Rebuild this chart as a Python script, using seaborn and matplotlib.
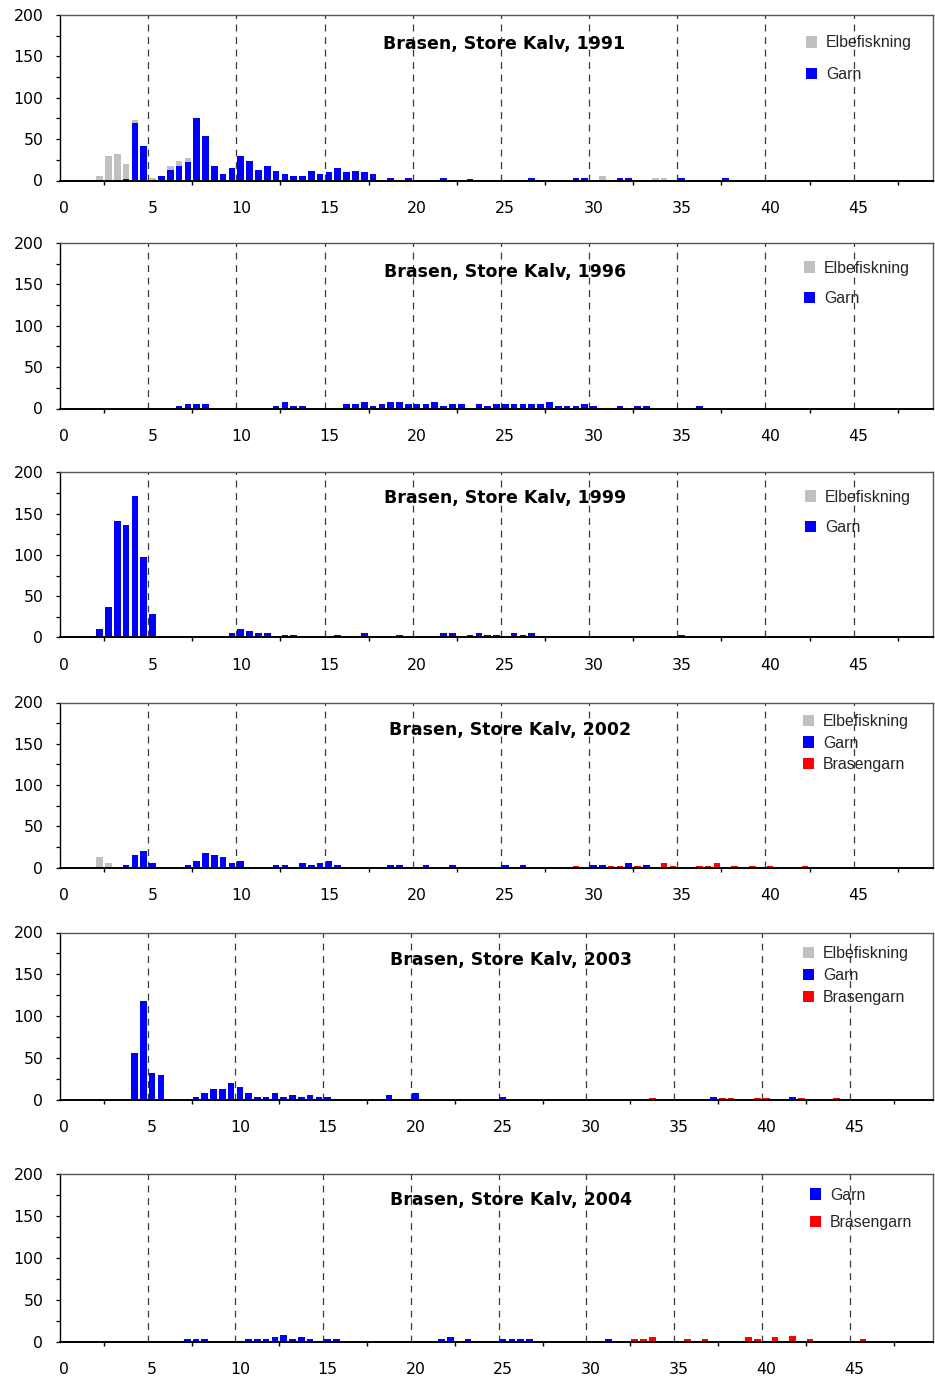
import numpy as np
import pandas as pd
import matplotlib
matplotlib.use("Agg")
import matplotlib.pyplot as plt
import seaborn as sns

# ---------------------------------------------------------------------------
# Length distribution of bream (Brasen) in Store Kalv.
# Each list pair: lower bound of the 0.5 cm length class and number of fish.
# ---------------------------------------------------------------------------
elbe_1991_len = [2.0, 2.5, 3.0, 3.5, 4.0, 5.0, 6.0, 6.5, 7.0, 30.5, 33.5, 34.0]
elbe_1991_n = [5, 30, 32, 18, 4, 3, 5, 6, 5, 5, 3, 3]
garn_1991_len = [3.5, 4.0, 4.5, 5.5, 6.0, 6.5, 7.0, 7.5, 8.0, 8.5,
                 9.0, 9.5, 10.0, 10.5, 11.0, 11.5, 12.0, 12.5, 13.0, 13.5,
                 14.0, 14.5, 15.0, 15.5, 16.0, 16.5, 17.0, 17.5, 18.5, 19.5,
                 21.5, 23.0, 26.5, 29.0, 29.5, 31.5, 32.0, 35.0, 37.5]
garn_1991_n = [2, 69, 42, 6, 13, 18, 22, 75, 54, 18,
               8, 15, 30, 24, 13, 18, 12, 8, 5, 5,
               12, 8, 10, 15, 10, 12, 10, 8, 3, 3,
               3, 2, 3, 3, 3, 3, 3, 3, 3]

garn_1996_len = [6.5, 7.0, 7.5, 8.0,
                 12.0, 12.5, 13.0, 13.5,
                 16.0, 16.5, 17.0, 17.5, 18.0, 18.5, 19.0, 19.5, 20.0, 20.5,
                 21.0, 21.5, 22.0, 22.5,
                 23.5, 24.0, 24.5, 25.0, 25.5, 26.0, 26.5, 27.0, 27.5, 28.0,
                 28.5, 29.0, 29.5, 30.0,
                 31.5, 32.5, 33.0, 36.0]
garn_1996_n = [3, 6, 6, 6,
               3, 8, 3, 3,
               6, 6, 8, 3, 6, 8, 8, 6, 6, 6,
               8, 3, 6, 6,
               6, 3, 6, 6, 6, 6, 6, 6, 8, 3,
               3, 3, 6, 3,
               3, 3, 3, 3]

garn_1999_len = [2.0, 2.5, 3.0, 3.5, 4.0, 4.5, 5.0,
                 9.5, 10.0, 10.5, 11.0, 11.5, 12.5, 13.0, 15.5, 17.0, 19.0,
                 21.5, 22.0, 23.0, 23.5, 24.0, 24.5, 25.5, 26.0, 26.5, 30.0,
                 35.0]
garn_1999_n = [10, 37, 141, 136, 172, 98, 29,
               5, 10, 8, 5, 5, 3, 3, 3, 5, 3,
               5, 5, 3, 5, 3, 3, 5, 3, 5, 2,
               3]

elbe_2002_len = [2.0, 2.5]
elbe_2002_n = [13, 6]
garn_2002_len = [3.5, 4.0, 4.5, 5.0, 7.0, 7.5, 8.0, 8.5, 9.0, 9.5,
                 10.0, 12.0, 12.5, 13.5, 14.0, 14.5, 15.0, 15.5, 18.5, 19.0,
                 20.5, 22.0, 25.0, 26.0, 30.0, 30.5, 32.0, 33.0]
garn_2002_n = [3, 15, 20, 6, 3, 8, 18, 15, 13, 6,
               8, 3, 3, 6, 3, 6, 8, 3, 3, 3,
               3, 3, 3, 3, 3, 3, 6, 3]
bras_2002_len = [29.0, 31.0, 31.5, 32.5, 34.0, 34.5, 36.0, 36.5, 37.0, 38.0,
                 39.0, 40.0, 42.0]
bras_2002_n = [2, 2, 2, 2, 5, 2, 2, 2, 5, 2,
               2, 2, 2]

garn_2003_len = [4.0, 4.5, 5.0, 5.5, 7.5, 8.0, 8.5, 9.0, 9.5, 10.0,
                 10.5, 11.0, 11.5, 12.0, 12.5, 13.0, 13.5, 14.0, 14.5, 15.0,
                 18.5, 20.0, 25.0, 37.0, 41.5]
garn_2003_n = [56, 118, 32, 30, 3, 8, 13, 13, 20, 15,
               8, 3, 3, 8, 3, 6, 3, 6, 3, 3,
               6, 8, 3, 3, 3]
bras_2003_len = [33.5, 37.5, 38.0, 39.5, 40.0, 42.0, 44.0]
bras_2003_n = [2, 2, 2, 2, 2, 2, 2]

garn_2004_len = [7.0, 7.5, 8.0, 10.5, 11.0, 11.5, 12.0, 12.5, 13.0, 13.5,
                 14.0, 15.0, 15.5, 21.5, 22.0, 23.0, 25.0, 25.5, 26.0, 26.5,
                 31.0]
garn_2004_n = [3, 3, 3, 3, 3, 3, 5, 8, 3, 5,
               3, 3, 3, 3, 5, 3, 3, 3, 3, 3,
               3]
bras_2004_len = [32.5, 33.0, 33.5, 35.5, 36.5, 39.0, 39.5, 40.5, 41.5, 42.5,
                 45.5]
bras_2004_n = [3, 3, 5, 3, 3, 5, 3, 5, 7, 3,
               3]

titles = ["Brasen, Store Kalv, 1991", "Brasen, Store Kalv, 1996",
          "Brasen, Store Kalv, 1999", "Brasen, Store Kalv, 2002",
          "Brasen, Store Kalv, 2003", "Brasen, Store Kalv, 2004"]

panels = [
    {"Elbefiskning": (elbe_1991_len, elbe_1991_n), "Garn": (garn_1991_len, garn_1991_n)},
    {"Elbefiskning": ([], []), "Garn": (garn_1996_len, garn_1996_n)},
    {"Elbefiskning": ([], []), "Garn": (garn_1999_len, garn_1999_n)},
    {"Elbefiskning": (elbe_2002_len, elbe_2002_n), "Garn": (garn_2002_len, garn_2002_n),
     "Brasengarn": (bras_2002_len, bras_2002_n)},
    {"Elbefiskning": ([], []), "Garn": (garn_2003_len, garn_2003_n),
     "Brasengarn": (bras_2003_len, bras_2003_n)},
    {"Garn": (garn_2004_len, garn_2004_n), "Brasengarn": (bras_2004_len, bras_2004_n)},
]

gear_order = ["Elbefiskning", "Garn", "Brasengarn"]
gear_colors = {"Elbefiskning": "#c0c0c0", "Garn": "#0000ff", "Brasengarn": "#ff0000"}

x_ticks = [0, 5, 10, 15, 20, 25, 30, 35, 40, 45]
y_ticks = [0, 50, 100, 150, 200]

# ---------------------------------------------------------------------------
# Layout (figure pixels)
# ---------------------------------------------------------------------------
W, H = 935, 1378
AX_LEFT, AX_RIGHT = 60, 933
ax_rows = [(15, 180.5, 49.5), (243, 408.5, 49.5), (472.5, 637.5, 49.5),
           (702.5, 867.5, 49.5), (932.5, 1100, 49.75), (1174, 1341.5, 49.75)]
title_pos = [(504.5, 48.5), (505, 276.5), (505, 503.5),
             (510.5, 735), (511, 964.5), (511, 1205)]
legend_pos = [(806, 35.5, 1.05), (804, 260.5, 1.0), (805, 489.5, 1.0),
              (803, 714, 0.42), (803, 946, 0.45), (810, 1187.5, 0.78)]

BIN = 0.5
grid = np.arange(0, 50, BIN)


def counts(pair):
    lens, n = pair
    s = pd.Series(n, index=lens, dtype=float)
    return s.reindex(grid, fill_value=0.0).to_numpy()


sns.set_theme(style="ticks")
plt.rcParams["font.family"] = ["DejaVu Sans"]

fig = plt.figure(figsize=(W / 100, H / 100), dpi=100)
fig.patch.set_facecolor("white")

for i, gears in enumerate(panels):
    top, bottom, xmax = ax_rows[i]
    ax = fig.add_axes([AX_LEFT / W, 1 - bottom / H,
                       (AX_RIGHT - AX_LEFT) / W, (bottom - top) / H])
    ax.set_facecolor("white")

    # stacked columns: Garn at the bottom, Elbefiskning above, Brasengarn on top
    g = counts(gears["Garn"])
    e = counts(gears["Elbefiskning"]) if "Elbefiskning" in gears else np.zeros_like(grid)
    b = counts(gears["Brasengarn"]) if "Brasengarn" in gears else np.zeros_like(grid)
    df = pd.DataFrame({
        "length": grid + BIN / 2,
        "Garn": g,
        "Elbefiskning": np.where(e > 0, g + e, 0.0),
        "Brasengarn": np.where(b > 0, g + e + b, 0.0),
    })

    for gear in ["Brasengarn", "Elbefiskning", "Garn"]:
        if gear not in gears:
            continue
        sns.barplot(data=df, x="length", y=gear, native_scale=True, orient="x",
                    color=gear_colors[gear], saturation=1, width=0.75,
                    linewidth=0, errorbar=None, ax=ax, label=gear, zorder=2)

    for xv in x_ticks[1:]:
        ax.axvline(xv, color="#3a3a3a", lw=0.9, ls=(0, (5.5, 4.5)), zorder=1)

    ax.set_xlim(0, xmax)
    ax.set_ylim(0, 200)
    ax.set_xlabel("")
    ax.set_ylabel("")

    ax.set_xticks([t + BIN / 2 for t in x_ticks])
    ax.set_xticklabels([str(t) for t in x_ticks])
    ax.set_xticks(np.arange(2.5, 50, 5), minor=True)
    ax.set_yticks(y_ticks)
    ax.set_yticklabels([str(t) for t in y_ticks])
    ax.set_yticks(np.arange(25, 200, 50), minor=True)

    ax.tick_params(axis="x", which="major", length=0, pad=14.5,
                   labelsize=11.3, labelcolor="black")
    ax.tick_params(axis="x", which="minor", length=3, width=1.0,
                   direction="out", color="black")
    ax.tick_params(axis="y", which="both", length=3, width=0.9,
                   direction="out", color="black", pad=9,
                   labelsize=11.3, labelcolor="black")

    for side in ["left", "bottom"]:
        ax.spines[side].set_color("black")
    ax.spines["left"].set_linewidth(1.0)
    ax.spines["bottom"].set_linewidth(1.4)
    for side in ["top", "right"]:
        ax.spines[side].set_color("#555555")
        ax.spines[side].set_linewidth(1.0)
        ax.spines[side].set_visible(True)

    tx, ty = title_pos[i]
    fig.text(tx / W, 1 - ty / H, titles[i], ha="center", va="baseline",
             fontsize=12.5, fontweight="bold", color="black",
             family=["DejaVu Sans"])

    handles, labels = ax.get_legend_handles_labels()
    lookup = dict(zip(labels, handles))
    names = [gname for gname in gear_order if gname in gears]
    lx, ly, spacing = legend_pos[i]
    ax.legend([lookup[n] for n in names], names,
              loc="upper left", bbox_to_anchor=(lx / W, 1 - ly / H),
              bbox_transform=fig.transFigure, frameon=False,
              prop={"family": ["Liberation Sans"], "size": 11.4},
              handlelength=0.72, handleheight=0.72, handletextpad=0.55,
              labelspacing=spacing, borderpad=0, borderaxespad=0)

fig.savefig("out.png", dpi=100, facecolor="white")
